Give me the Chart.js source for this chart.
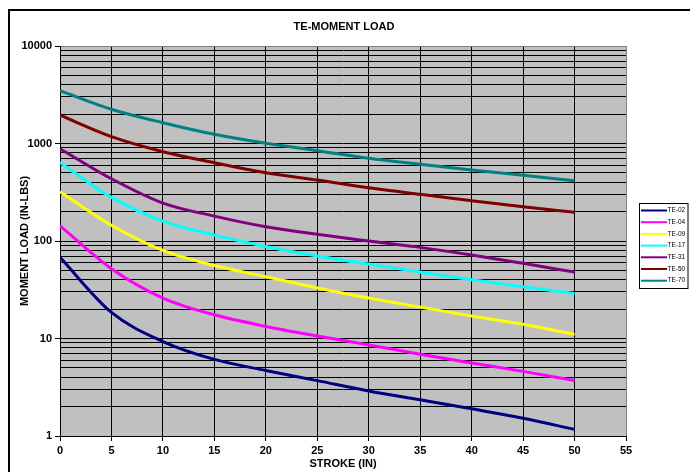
<!DOCTYPE html>
<html>
<head>
<meta charset="utf-8">
<title>TE-MOMENT LOAD</title>
<script src="https://cdn.jsdelivr.net/npm/chart.js@4/dist/chart.umd.min.js"></script>
<style>
  html, body { margin: 0; padding: 0; background: #fff; }
  canvas { display: block; }
</style>
</head>
<body>
<canvas id="chart" width="690" height="472"></canvas>
<script>
// Stroke positions (in) at which the moment load is plotted
const strokeIn = [0, 5, 10, 15, 20, 25, 30, 35, 40, 45, 50];

// Allowable moment load (in-lbs) per model
const te02 = [68, 18.5, 9.3, 6.1, 4.7, 3.7, 2.9, 2.35, 1.9, 1.52, 1.17];
const te04 = [143, 52, 26, 17.5, 13.3, 10.6, 8.6, 6.9, 5.6, 4.6, 3.7];
const te09 = [320, 145, 80, 56, 43, 33, 26, 21, 17, 14, 11];
const te17 = [640, 280, 160, 115, 88, 70, 58, 48, 40, 34, 29];
const te31 = [885, 435, 245, 180, 140, 117, 100, 86, 72, 59, 48];
const te50 = [1950, 1175, 824, 635, 502, 422, 352, 301, 259, 225, 197];
const te70 = [3480, 2245, 1634, 1242, 1004, 843, 705, 612, 535, 472, 415];

const modelNames = ['TE-02', 'TE-04', 'TE-09', 'TE-17', 'TE-31', 'TE-50', 'TE-70'];

// Axis labels
const yTickLabels = ['1', '10', '100', '1000', '10000'];
const xTickValues = [0, 5, 10, 15, 20, 25, 30, 35, 40, 45, 50, 55];

const lineColors = ['#000080', '#FF00FF', '#FFFF00', '#00FFFF', '#800080', '#800000', '#008080'];
const seriesValues = [te02, te04, te09, te17, te31, te50, te70];

const FONT = "'Liberation Sans', Arial, Helvetica, sans-serif";

// Log grid: every integer multiple inside each decade
const yDecades = yTickLabels.map(Number);
const yGridValues = [];
for (let i = 0; i < yDecades.length - 1; i++) {
  for (let m = 1; m <= 9; m++) yGridValues.push(m * yDecades[i]);
}
yGridValues.push(yDecades[yDecades.length - 1]);
const isDecade = v => yDecades.includes(v);

// Background, outer frame, heading and boxed legend
const decorPlugin = {
  id: 'decor',
  beforeDraw(chart) {
    const { ctx, chartArea: a } = chart;
    ctx.save();
    ctx.fillStyle = '#ffffff';
    ctx.fillRect(0, 0, chart.width, chart.height);
    ctx.fillStyle = '#C0C0C0';
    ctx.fillRect(a.left, a.top, a.right - a.left, a.bottom - a.top);
    ctx.restore();
  },
  afterDraw(chart) {
    const { ctx } = chart;
    ctx.save();
    // outer frame
    ctx.strokeStyle = '#000';
    ctx.lineWidth = 2;
    ctx.strokeRect(9, 10, 700, 500);

    // heading
    ctx.fillStyle = '#000';
    ctx.font = 'bold 11px ' + FONT;
    ctx.textAlign = 'center';
    ctx.textBaseline = 'middle';
    ctx.fillText('TE-MOMENT LOAD', 344, 27);

    // legend box
    const lx = 639.5, ly = 203.5, lw = 48.5, lh = 85;
    ctx.fillStyle = '#fff';
    ctx.fillRect(lx, ly, lw, lh);
    ctx.strokeStyle = '#000';
    ctx.lineWidth = 1;
    ctx.strokeRect(lx, ly, lw, lh);
    ctx.font = '6.5px ' + FONT;
    ctx.textAlign = 'left';
    chart.data.datasets.forEach((ds, i) => {
      const y = 210.5 + i * 11.7;
      ctx.strokeStyle = ds.borderColor;
      ctx.lineWidth = 2;
      ctx.beginPath();
      ctx.moveTo(641, y);
      ctx.lineTo(667, y);
      ctx.stroke();
      ctx.fillStyle = '#000';
      ctx.fillText(ds.label, 667.5, y);
    });
    ctx.restore();
  }
};

Chart.defaults.font.family = FONT;
Chart.defaults.font.size = 11;
Chart.defaults.font.weight = 'bold';
Chart.defaults.color = '#000';

new Chart(document.getElementById('chart'), {
  type: 'line',
  data: {
    datasets: modelNames.map((name, i) => ({
      label: name,
      data: strokeIn.map((s, j) => ({ x: s, y: seriesValues[i][j] })),
      borderColor: lineColors[i],
      backgroundColor: lineColors[i],
      borderWidth: 3,
      pointRadius: 0,
      cubicInterpolationMode: 'monotone',
      fill: false
    }))
  },
  options: {
    responsive: false,
    animation: false,
    layout: { padding: { top: 46, right: 64, bottom: 0, left: 0 } },
    plugins: {
      legend: { display: false },
      title: { display: false },
      tooltip: { enabled: false }
    },
    scales: {
      x: {
        type: 'linear',
        min: 0,
        max: 55,
        afterFit(scale) { scale.height = 36; },
        afterBuildTicks(scale) { scale.ticks = xTickValues.map(v => ({ value: v })); },
        ticks: { padding: 3, maxRotation: 0, autoSkip: false, font: { size: 11, weight: 'bold' } },
        grid: {
          color: c => (c.tick && c.tick.value === 55 ? '#808080' : '#000'),
          lineWidth: 1,
          tickLength: 5,
          tickColor: '#000'
        },
        border: { display: true, color: '#000', width: 1 },
        title: {
          display: true,
          text: 'STROKE (IN)',
          font: { size: 11, weight: 'bold' },
          padding: { top: 0, bottom: 1.5 }
        }
      },
      y: {
        type: 'logarithmic',
        min: 1,
        max: 10000,
        afterFit(scale) { scale.width = 60; },
        afterBuildTicks(scale) {
          scale.ticks = yGridValues.map(v => ({ value: v, major: isDecade(v) }));
        },
        ticks: {
          autoSkip: false,
          padding: 3,
          font: { size: 11, weight: 'bold' },
          callback: v => (isDecade(v) ? yTickLabels[yDecades.indexOf(v)] : '')
        },
        grid: {
          color: c => (c.tick && c.tick.value === 10000 ? '#808080' : '#000'),
          lineWidth: 1,
          tickLength: 5,
          tickColor: c => (c.tick && isDecade(c.tick.value) ? '#000' : 'rgba(0,0,0,0)')
        },
        border: { display: true, color: '#000', width: 1 },
        title: {
          display: true,
          text: 'MOMENT LOAD (IN-LBS)',
          font: { size: 11, weight: 'bold' },
          padding: { top: 18, bottom: 0 }
        }
      }
    }
  },
  plugins: [decorPlugin]
});
</script>
</body>
</html>
